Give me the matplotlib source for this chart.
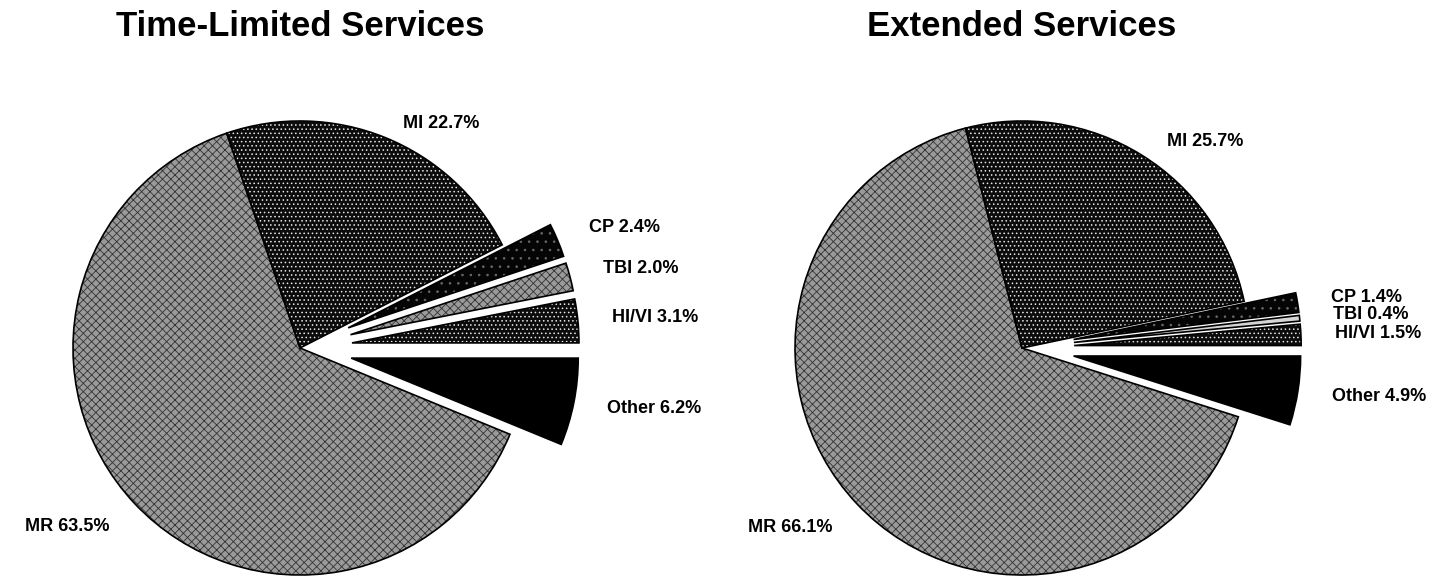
import numpy as np
import matplotlib.pyplot as plt

plt.rcParams['font.family'] = ['Liberation Sans', 'DejaVu Sans']
plt.rcParams['hatch.linewidth'] = 0.6

# Share of clients by disability group (percent)
groups = ['Other', 'HI/VI', 'TBI', 'CP', 'MI', 'MR']
time_limited = [6.2, 3.1, 2.0, 2.4, 22.7, 63.5]
extended = [4.9, 1.5, 0.4, 1.4, 25.7, 66.1]
pulled_out = [0.23, 0.23, 0.23, 0.23, 0.0, 0.0]

# (face colour, hatch, hatch colour) for each group
dark_dots = ('#0c0c0c', '....', '#e6e6e6')
sparse_dots = ('#050505', '..', '#6a6a6a')
grey_weave = ('#9a9a9a', 'xxxx', '#333333')
left_fills = [('black', '', 'black'), dark_dots, grey_weave,
              sparse_dots, dark_dots, grey_weave]
right_fills = [('black', '', 'black'), dark_dots, ('#d4d4d4', '', '#d4d4d4'),
               sparse_dots, dark_dots, grey_weave]

W, H = 1438, 576
R = 227.0  # pie radius in pixels
fig = plt.figure(figsize=(W / 100, H / 100), dpi=100)


def draw_pie(ax, values, fills, title, cx, box_w):
    start = -360.0 * values[0] / sum(values)
    labels = ['%s %.1f%%' % (g, v) for g, v in zip(groups, values)]
    wedges, texts = ax.pie(values, explode=pulled_out, labels=labels,
                           startangle=start, counterclock=True,
                           labeldistance=1.15,
                           wedgeprops=dict(linewidth=0),
                           textprops=dict(fontsize=13, fontweight='bold'))
    for w, (fc, hatch, hc) in zip(wedges, fills):
        w.set_facecolor(fc)
        w.set_edgecolor(hc)
        w.set_hatch(hatch)
    # crisp black rims on top of the textured wedges
    ax.pie(values, explode=pulled_out, startangle=start, counterclock=True,
           wedgeprops=dict(fill=False, edgecolor='black', linewidth=1.2))
    for t in texts:
        t.set_va('center')
    # MI label sits a little lower, next to the top of the pie
    x, y = texts[4].get_position()
    texts[4].set_position((x * 1.05, y * 0.93))
    ax.text(0, (348 - 36) / R, title, ha='center', va='baseline',
            fontsize=25, fontweight='bold', clip_on=False)
    ax.set_xlim(-cx / R, (box_w - cx) / R)
    ax.set_ylim(-(H - 348) / R, 348 / R)
    ax.set_aspect('auto')
    ax.axis('off')


ax1 = fig.add_axes([0, 0, 720 / W, 1])
draw_pie(ax1, time_limited, left_fills, 'Time-Limited Services', 300, 720)

ax2 = fig.add_axes([720 / W, 0, 718 / W, 1])
draw_pie(ax2, extended, right_fills, 'Extended Services', 302, 718)

fig.savefig('out.png', dpi=100)
